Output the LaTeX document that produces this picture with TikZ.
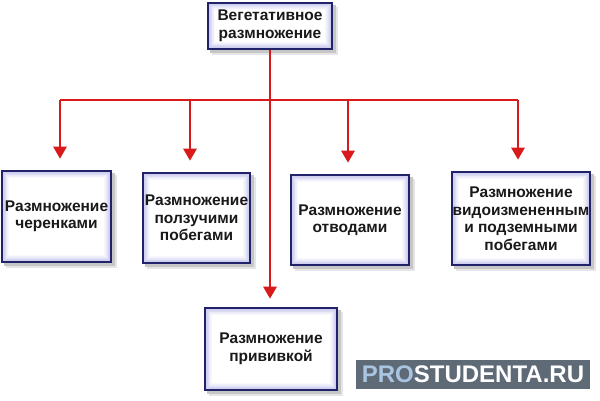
\documentclass[tikz,border=0pt]{standalone}
\usepackage{fontspec}
\setmainfont{Liberation Sans}
\usetikzlibrary{arrows.meta,backgrounds}
\definecolor{navy}{HTML}{22226A}
\definecolor{glow}{HTML}{9C9CE0}
\definecolor{arr}{HTML}{D81A1A}
\definecolor{wm}{HTML}{5E6A76}
\definecolor{wmblue}{HTML}{A9C5E2}
\tikzset{
  box/.style={draw=navy, line width=2.6pt, inner sep=0pt,
    align=center, text=black!90, font=\bfseries\fontsize{15.5}{17.5}\selectfont},
  conn/.style={draw=arr, line width=2.8pt},
  arrow/.style={conn, -{Triangle[width=13pt,length=12pt]}},
  conshadow/.style={draw=gray!40, line width=2.8pt}
}
\begin{document}
\begin{tikzpicture}[x=1pt,y=1pt]
\useasboundingbox (0,0) rectangle (600,400);

\node[box, minimum width=124pt, minimum height=46pt] (top) at (270,374) {Вегетативное\\размножение};
\node[box, minimum width=109pt, minimum height=91pt] (b1) at (56.5,183.5) {Размножение\\черенками};
\node[box, minimum width=107pt, minimum height=90pt] (b2) at (196.5,182) {Размножение\\ползучими\\побегами};
\node[box, minimum width=118pt, minimum height=90pt] (b3) at (350,180) {Размножение\\отводами};
\node[box, minimum width=138pt, minimum height=93pt] (b4) at (521,181.5) {Размножение\\видоизмененным\\и подземными\\побегами};
\node[box, minimum width=132pt, minimum height=82pt] (b5) at (271,51) {Размножение\\прививкой};

\begin{scope}[on background layer]
\fill[white] (0,0) rectangle (600,400);
\foreach \n in {top,b1,b2,b3,b4,b5}{
  \fill[gray!20] ([shift={(5,-5)}]\n.south west) rectangle ([shift={(5,-5)}]\n.north east);
  \fill[gray!45] ([shift={(3,-3)}]\n.south west) rectangle ([shift={(3,-3)}]\n.north east);
  \foreach \k in {0,...,10}{
    \pgfmathsetmacro\gc{int(70-7*\k)}
    \fill[glow!\gc!white] ([shift={(\k*0.8,\k*0.8)}]\n.south west) rectangle ([shift={(-\k*0.8,-\k*0.8)}]\n.north east);
  }
}
\end{scope}

\coordinate (h1) at (60,300);
\coordinate (h2) at (190,300);
\coordinate (hc) at (270,300);
\coordinate (h4) at (348,300);
\coordinate (h5) at (518,300);

% connector shadows
\begin{scope}[shift={(1.5,-1.5)}]
\draw[conshadow] (h1) -- (h5);
\draw[conshadow, shorten >=20pt] (h1) -- (h1 |- b1.north);
\draw[conshadow, shorten >=20pt] (h2) -- (h2 |- b2.north);
\draw[conshadow, shorten >=20pt] (h4) -- (h4 |- b3.north);
\draw[conshadow, shorten >=20pt] (h5) -- (h5 |- b4.north);
\end{scope}

\draw[conn] (h1) -- (h5);
\draw[arrow, shorten >=8pt] (top.south) -- (top.south |- b5.north);
\draw[arrow, shorten >=11pt] (h1) -- (h1 |- b1.north);
\draw[arrow, shorten >=11pt] (h2) -- (h2 |- b2.north);
\draw[arrow, shorten >=11pt] (h4) -- (h4 |- b3.north);
\draw[arrow, shorten >=11pt] (h5) -- (h5 |- b4.north);

\node[fill=wm, minimum width=234pt, minimum height=29pt, inner sep=0pt,
  font=\bfseries\fontsize{24}{24}\selectfont] (wmk) at (473,25.5)
  {\textcolor{wmblue}{PRO}\textcolor{white}{STUDENTA.RU}};
\end{tikzpicture}
\end{document}
